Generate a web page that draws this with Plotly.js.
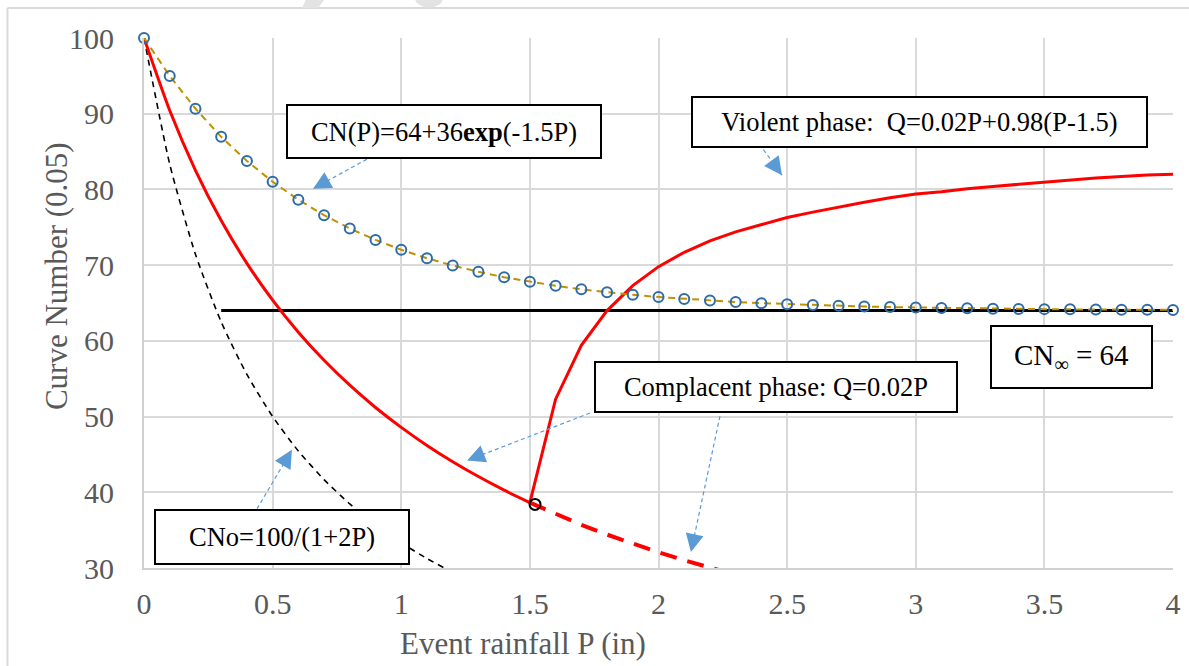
<!DOCTYPE html>
<html>
<head>
<meta charset="utf-8">
<script src="https://cdn.plot.ly/plotly-3.0.1.min.js"></script>
<style>
html,body{margin:0;padding:0;background:#fff;}
#chart{width:1189px;height:666px;}
</style>
</head>
<body>
<div id="chart"></div>
<script>
// ---- data ----
const P_exp = [0,0.1,0.2,0.3,0.4,0.5,0.6,0.7,0.8,0.9,1.0,1.1,1.2,1.3,1.4,1.5,1.6,1.7,1.8,1.9,2.0,
               2.1,2.2,2.3,2.4,2.5,2.6,2.7,2.8,2.9,3.0,3.1,3.2,3.3,3.4,3.5,3.6,3.7,3.8,3.9,4.0];
const CN_exp = [100,94.99,90.67,86.95,83.76,81.01,78.64,76.60,74.84,73.33,72.03,70.91,69.95,69.12,68.41,67.80,
                67.27,66.81,66.42,66.08,65.79,65.54,65.33,65.14,64.98,64.85,64.73,64.63,64.54,64.46,64.40,
                64.34,64.30,64.25,64.22,64.19,64.16,64.14,64.12,64.10,64.09];

const P_cn0 = [0,0.1,0.2,0.3,0.4,0.5,0.6,0.7,0.8,0.9,1.0,1.1,1.2];
const CN_cn0 = [100,83.33,71.43,62.5,55.56,50,45.45,41.67,38.46,35.71,33.33,31.25,29.41];

const P_comp = [0,0.1,0.2,0.3,0.4,0.5,0.6,0.7,0.8,0.9,1.0,1.1,1.2,1.3,1.4,1.5];
const CN_comp = [100,90.42,82.52,75.89,70.24,65.38,61.15,57.43,54.14,51.20,48.57,46.19,44.04,42.08,40.28,38.63];

const P_compExt = [1.5,1.6,1.7,1.8,1.9,2.0,2.1,2.2,2.3];
const CN_compExt = [38.63,37.11,35.71,34.41,33.20,32.07,31.02,30.03,29.11];

const P_viol = [1.5,1.6,1.7,1.8,1.9,2.0,2.1,2.2,2.3,2.4,2.5,2.6,2.7,2.8,2.9,3.0,3.1,3.2,3.3,3.4,3.5,3.6,3.7,3.8,3.9,4.0];
const CN_viol = [38.63,52.3,59.4,64.0,67.3,69.8,71.7,73.2,74.4,75.4,76.3,77.0,77.7,78.3,78.9,79.4,
                 79.7,80.1,80.4,80.7,81.0,81.3,81.5,81.7,81.9,82.0];

const P_inf = [0.3,4.0];
const CN_inf = [64,64];

const P_turn = [1.52];
const CN_turn = [38.4];

const labels = {
  exp: 'CN(P)=64+36<b>exp</b>(-1.5P)',
  violent: 'Violent phase:\u00A0 Q=0.02P+0.98(P-1.5)',
  complacent: 'Complacent phase: Q=0.02P',
  inf: 'CN<sub>\u221E</sub> = 64',
  cn0: 'CNo=100/(1+2P)',
  xTitle: 'Event rainfall P (in)',
  yTitle: 'Curve Number (0.05)'
};

// ---- traces ----
const traces = [
  {x:P_cn0, y:CN_cn0, mode:'lines', line:{color:'#000', width:1.6, dash:'6px,5px', shape:'spline', smoothing:0.6}, hoverinfo:'skip'},
  {x:P_inf, y:CN_inf, mode:'lines', line:{color:'#000', width:3}, hoverinfo:'skip'},
  {x:P_comp, y:CN_comp, mode:'lines', line:{color:'#FF0000', width:3, shape:'spline', smoothing:0.6}, hoverinfo:'skip'},
  {x:P_compExt, y:CN_compExt, mode:'lines', line:{color:'#FF0000', width:4, dash:'17px,11px'}, hoverinfo:'skip'},
  {x:P_viol, y:CN_viol, mode:'lines', line:{color:'#FF0000', width:3}, hoverinfo:'skip'},
  {x:P_exp, y:CN_exp, mode:'lines+markers', cliponaxis:false,
   line:{color:'#BF9000', width:2, dash:'7px,5px'},
   marker:{symbol:'circle-open', size:10, color:'#2E6CA8', line:{width:2, color:'#2E6CA8'}}, hoverinfo:'skip'},
  {x:P_turn, y:CN_turn, mode:'markers', cliponaxis:false,
   marker:{symbol:'circle-open', size:11, color:'#000', line:{width:2, color:'#000'}}, hoverinfo:'skip'}
];

// ---- annotation boxes ----
const serif = 'Liberation Serif';
function box(text, x, y, w, h, size){
  return {text:text, x:x, y:y, xref:'x', yref:'y', showarrow:false, xanchor:'center', yanchor:'middle',
          width:w, height:h, bgcolor:'#fff', bordercolor:'#000', borderwidth:2, borderpad:0,
          font:{family:serif, size:size, color:'#000'}};
}
function head(x, y, ax, ay){
  return {text:'', x:x, y:y, xref:'x', yref:'y', showarrow:true, ax:ax, ay:ay,
          arrowhead:2, arrowsize:3.0, arrowwidth:1.2, arrowcolor:'#5B9BD5', standoff:0};
}
function shaft(x0, y0, x1, y1){
  return {type:'line', xref:'x', yref:'y', x0:x0, y0:y0, x1:x1, y1:y1,
          line:{color:'#5B9BD5', width:1.2, dash:'4px,3px'}, layer:'above'};
}

const annotations = [
  head(0.657, 80.09, 11.4, -6.3),
  head(2.480, 81.88, -7.6, -10.5),
  head(1.256, 44.19, 12.1, -4.8),
  head(2.126, 32.11, 2.7, -12.7),
  head(0.575, 45.61, -6.6, 11.2),
  box(labels.exp, 1.166, 87.59, 312, 51, 26.5),
  box(labels.violent, 3.015, 88.87, 453, 48, 26.5),
  box(labels.complacent, 2.457, 53.93, 360, 48, 26.5),
  box(labels.inf, 3.606, 57.85, 159, 60, 29),
  box(labels.cn0, 0.5365, 34.09, 252, 52, 26.5),
  {text:labels.xTitle, xref:'paper', yref:'paper', x:0.3683, y:-0.1433, showarrow:false,
   xanchor:'center', yanchor:'middle', font:{family:serif, size:31, color:'#595959'}},
  {text:labels.yTitle, xref:'paper', yref:'paper', x:-0.0856, y:0.5506, showarrow:false, textangle:-90,
   xanchor:'center', yanchor:'middle', font:{family:serif, size:31, color:'#595959'}}
];

const shapes = [
  shaft(0.8904, 84.44, 0.657, 80.09),
  shaft(2.3281, 89.01, 2.480, 81.88),
  shaft(1.7337, 50.47, 1.256, 44.19),
  shaft(2.2390, 50.06, 2.126, 32.11),
  shaft(0.4393, 37.82, 0.575, 45.61),
  // outer chart-area frame
  {type:'line', xref:'paper', yref:'paper', x0:-0.1327, x1:1.05, y0:1.0566, y1:1.0566, line:{color:'#D9D9D9', width:2}},
  {type:'line', xref:'paper', yref:'paper', x0:-0.1327, x1:-0.1327, y0:1.0566, y1:-0.25, line:{color:'#D9D9D9', width:2}},
  // faint watermark fragments at the top edge
  {type:'path', xref:'paper', yref:'paper', path:'M0.1594,1.0811 L0.1788,1.0811 L0.1691,1.0566 L0.1535,1.0566 Z',
   fillcolor:'#E3E3E3', line:{width:0}},
  {type:'path', xref:'paper', yref:'paper', path:'M0.2614,1.0811 L0.2925,1.0811 L0.2890,1.0660 Q0.2770,1.0480 0.2650,1.0660 Z',
   fillcolor:'#E3E3E3', line:{width:0}}
];

const layout = {
  width:1189, height:666,
  margin:{l:144, r:16, t:38, b:98},
  paper_bgcolor:'#fff', plot_bgcolor:'#fff',
  showlegend:false,
  font:{family:serif},
  xaxis:{range:[0,4], dtick:0.5, tick0:0, showgrid:true, gridcolor:'#D9D9D9', gridwidth:2,
         zeroline:false, showline:true, linecolor:'#D0D0D0', linewidth:2, ticks:'',
         ticklabelstandoff:8,
         tickfont:{family:serif, size:30, color:'#595959'}},
  yaxis:{range:[30,100], dtick:10, tick0:30, showgrid:true, gridcolor:'#D9D9D9', gridwidth:2,
         zeroline:false, showline:true, linecolor:'#D0D0D0', linewidth:2, ticks:'',
         ticklabelstandoff:22,
         tickfont:{family:serif, size:30, color:'#595959'}},
  annotations:annotations,
  shapes:shapes
};

Plotly.newPlot('chart', traces, layout, {staticPlot:true, displayModeBar:false});
</script>
</body>
</html>
